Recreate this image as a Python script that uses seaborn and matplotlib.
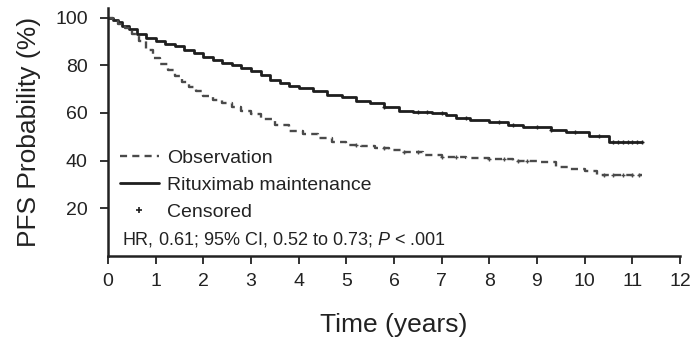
import numpy as np
import pandas as pd
import matplotlib
matplotlib.use("Agg")
import matplotlib.pyplot as plt
import seaborn as sns
from matplotlib.lines import Line2D

# ---- data ----
ritux_t = [0, 0.1, 0.2, 0.3, 0.45, 0.6, 0.8, 1.0, 1.2, 1.4, 1.6, 1.8, 2.0, 2.2, 2.4, 2.6, 2.8, 3.0,
           3.2, 3.4, 3.6, 3.8, 4.0, 4.3, 4.6, 4.9, 5.2, 5.5, 5.8, 6.1, 6.4, 6.8, 7.1, 7.3, 7.6, 8.0,
           8.4, 8.7, 9.3, 9.6, 10.1, 10.5, 11.2]
ritux_s = [100, 99, 98, 96.5, 95, 93, 91.5, 90, 89, 88, 86.5, 85, 83.5, 82, 81, 80, 79, 77.5,
           76, 74, 72.5, 71.5, 70.5, 69, 67.5, 66.5, 65, 64, 62.5, 61, 60.5, 60, 59, 58, 57, 56,
           55, 54, 53, 52, 50.5, 48, 48]
obs_t = [0, 0.1, 0.2, 0.35, 0.5, 0.65, 0.8, 0.95, 1.1, 1.25, 1.4, 1.55, 1.7, 1.85, 2.0, 2.2, 2.4,
         2.6, 2.8, 3.0, 3.2, 3.5, 3.8, 4.1, 4.4, 4.7, 5.0, 5.3, 5.6, 5.9, 6.2, 6.6, 7.0, 7.5, 8.0,
         8.5, 9.0, 9.4, 9.7, 10.0, 10.25, 11.2]
obs_s = [100, 99, 97.5, 95.5, 93, 90, 86.5, 83, 80.5, 78, 75.5, 73, 71, 69, 67, 65.5, 64, 62.5,
         61, 59.5, 57.5, 55, 52.5, 51, 49.5, 48, 46.5, 46, 45.5, 44.5, 43.5, 42.5, 41.5, 41, 40.5,
         40, 39.5, 37.5, 36.5, 35.5, 34, 34]
ritux_cens = [5.8, 6.5, 6.7, 7.0, 7.5, 8.2, 8.5, 9.0, 9.3, 9.8, 10.3, 10.6, 10.7, 10.8, 10.9,
              11.0, 11.1, 11.2]
obs_cens = [5.2, 5.8, 6.2, 6.5, 7.0, 7.3, 8.0, 8.3, 8.6, 8.8, 10.4, 10.6, 10.8, 11.0, 11.15]
x_ticks = list(range(0, 13))
y_ticks = [20, 40, 60, 80, 100]
labels = ["Observation", "Rituximab maintenance", "Censored"]
hr_text = "HR, 0.61; 95% CI, 0.52 to 0.73; $\\mathit{P}$ < .001"

sns.set_style("ticks")
plt.rcParams["font.family"] = ["Liberation Sans", "DejaVu Sans"]
plt.rcParams["mathtext.fontset"] = "custom"
plt.rcParams["mathtext.rm"] = "Liberation Sans"
plt.rcParams["mathtext.it"] = "Liberation Sans:italic"

fig = plt.figure(figsize=(6.92, 3.39), dpi=100)
ax = fig.add_axes([108 / 692, 1 - 256 / 339, (680 - 108) / 692, 248 / 339])

df_r = pd.DataFrame({"t": ritux_t, "s": ritux_s})
df_o = pd.DataFrame({"t": obs_t, "s": obs_s})
col = "#1e1e1e"
col2 = "#4a4a4a"
sns.lineplot(data=df_r, x="t", y="s", ax=ax, color=col, lw=2.0, drawstyle="steps-post",
             estimator=None, sort=False)
sns.lineplot(data=df_o, x="t", y="s", ax=ax, color=col2, lw=1.7, drawstyle="steps-post",
             estimator=None, sort=False)
ax.lines[-1].set_dashes([3.0, 2.2])

def step_val(ts, ss, x):
    i = np.searchsorted(np.asarray(ts), x, side="right") - 1
    return np.asarray(ss)[i]

ax.plot(ritux_cens, [step_val(ritux_t, ritux_s, c) for c in ritux_cens], ls="none",
        marker="+", ms=3.5, mew=1.0, color=col)
ax.plot(obs_cens, [step_val(obs_t, obs_s, c) for c in obs_cens], ls="none",
        marker="+", ms=3.5, mew=1.0, color=col2)

ax.set_xlim(0, 12)
ax.set_ylim(0, 104)
ax.set_xticks(x_ticks)
ax.set_yticks(y_ticks)
ax.tick_params(axis="both", labelsize=14, colors="#222222", length=5.5, width=1.3, direction="out")
ax.tick_params(axis="x", pad=7)
ax.tick_params(axis="y", pad=9)
ax.set_xlabel("Time (years)", fontsize=19, color="#222222", labelpad=16)
ax.set_ylabel("PFS Probability (%)", fontsize=19, color="#222222", labelpad=10)
for sp in ["top", "right"]:
    ax.spines[sp].set_visible(False)
for sp in ["left", "bottom"]:
    ax.spines[sp].set_linewidth(1.8)
    ax.spines[sp].set_color("#222222")

handles = [Line2D([], [], color=col2, lw=1.7, dashes=[3.0, 2.2]),
           Line2D([], [], color=col, lw=2.0),
           Line2D([], [], color=col, ls="none", marker="+", ms=4, mew=1.2)]
leg = ax.legend(handles, labels, loc="upper left", bbox_to_anchor=(-0.01, 0.5), frameon=False,
                fontsize=14, handlelength=2.0, handletextpad=0.45, labelspacing=0.48,
                labelcolor="#222222")
ax.text(0.025, 0.065, hr_text, transform=ax.transAxes, fontsize=13, color="#222222",
        ha="left", va="center")

fig.savefig("out.png", dpi=100)
